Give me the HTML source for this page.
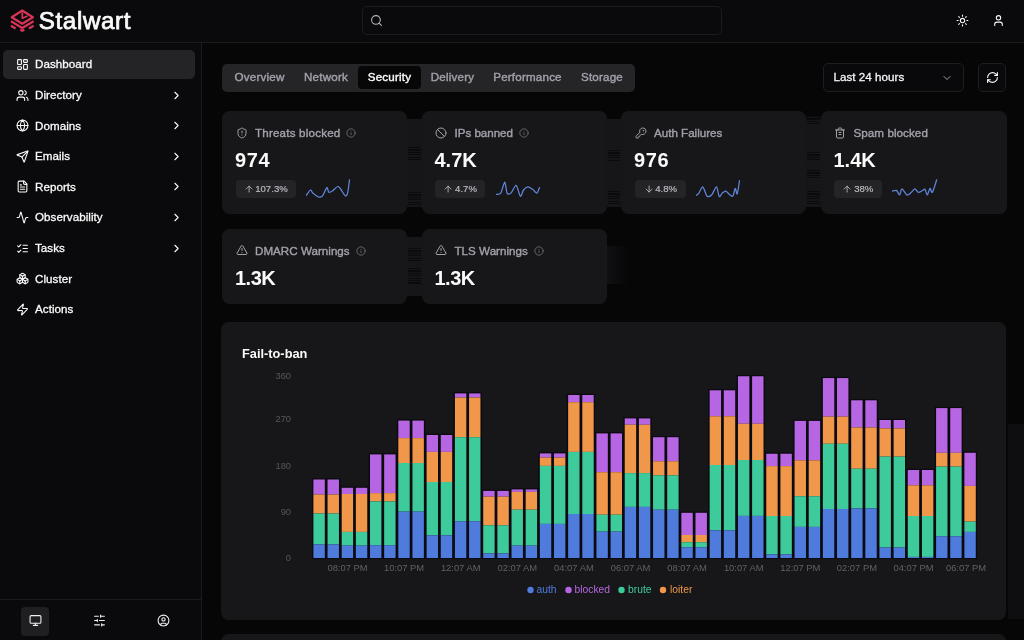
<!DOCTYPE html>
<html lang="en">
<head>
<meta charset="utf-8">
<title>Stalwart</title>
<style>
*{box-sizing:border-box;margin:0;padding:0}
html,body{width:1024px;height:640px;overflow:hidden;background:#060607;color:#fafafa;
  font-family:"Liberation Sans",Arial,sans-serif;font-size:11.2px;-webkit-font-smoothing:antialiased}
svg{display:block}
.ic{fill:none;stroke:currentColor;stroke-width:2;stroke-linecap:round;stroke-linejoin:round}
#hdr{position:absolute;left:0;top:0;width:1024px;height:43px;border-bottom:1px solid #1b1b1e;background:#0a0a0c}
#logo{position:absolute;left:9.8px;top:8.6px}
#brand{position:absolute;left:38.8px;top:6px;font-size:24.2px;font-weight:normal;-webkit-text-stroke:0.75px #fafafa;letter-spacing:0.6px;line-height:30px;color:#fafafa}
#search{position:absolute;left:362px;top:6px;width:360px;height:29px;border:1px solid #1c1c1f;border-radius:5px;background:#0a0a0c}
#search svg{position:absolute;left:7px;top:7px;color:#b4b4bb}
.hic{position:absolute;top:14px;color:#fafafa}
#side{position:absolute;left:0;top:43px;width:202px;height:597px;border-right:1px solid #1b1b1e;background:#0a0a0c}
.nav{position:absolute;left:3px;width:192px;height:29px;border-radius:5px;color:#fafafa;font-size:11.6px;font-weight:normal;-webkit-text-stroke:0.3px currentColor}
.nav.on{background:#242427}
.nav svg.i{position:absolute;left:13px;top:8px}
.nav span{position:absolute;left:32px;top:-0.6px;line-height:29px;letter-spacing:0.05px}
.nav svg.c{position:absolute;left:167px;top:8px}
#sfoot{position:absolute;left:0;top:556px;width:201px;height:41px;border-top:1px solid #1b1b1e}
#sfoot .b{position:absolute;top:7px;width:28px;height:28.5px;border-radius:4px;color:#f0f0f2}
#sfoot .b.on{background:#1f1f22}
#sfoot .b svg{position:absolute;left:8px;top:7px}
#tabs{position:absolute;left:222px;top:63.6px;width:413px;height:28.4px;background:#252528;border-radius:5px;color:#a1a1aa;font-size:11.6px;letter-spacing:0.2px;font-weight:normal;-webkit-text-stroke:0.4px currentColor}
#tabs span{position:absolute;top:2.7px;height:22.6px;line-height:21.4px;text-align:center;border-radius:4px}
#tabs span.on{background:#070708;color:#fafafa}
#range{position:absolute;left:823.4px;top:63px;width:141px;height:28.5px;border:1px solid #1e1e21;background:#09090b;border-radius:5px;font-size:11.6px;letter-spacing:0.05px;font-weight:normal;-webkit-text-stroke:0.3px currentColor;line-height:26.5px;padding-left:9px;color:#f4f4f5}
#range svg{position:absolute;left:117px;top:8px;color:#a1a1aa}
#refresh{position:absolute;left:978.3px;top:63px;width:27.7px;height:28.5px;border:1px solid #1e1e21;background:#09090b;border-radius:5px;color:#fafafa}
#refresh svg{position:absolute;left:6.8px;top:7px}
.card{position:absolute;background:#171719;border-radius:7.5px}
.card .t{position:absolute;left:13.7px;top:13.5px;height:16px;line-height:16px;font-size:11.6px;letter-spacing:0.2px;font-weight:normal;-webkit-text-stroke:0.38px currentColor;color:#a1a1aa;white-space:nowrap}
.card .t>svg{position:absolute;left:0;top:2px}
.card .t svg.inf{display:inline-block;vertical-align:-1px;margin-left:6px;color:#71717a}
.card .p svg{display:inline-block;vertical-align:-1.6px;margin-right:1.5px;width:10.2px;height:10.2px}
.card .t b{position:absolute;left:19.3px;top:0.5px;font-weight:normal}
.card .v{position:absolute;left:13px;top:36.4px;font-size:20px;font-weight:bold;line-height:26px;color:#fafafa;letter-spacing:0.6px}
.card .r{position:absolute;left:13.6px;top:68px;height:20px;width:140px}
.card .p{position:absolute;left:0;top:1.4px;text-align:center;height:17.6px;border-radius:4px;background:#242427;color:#b9b9c0;font-size:9.6px;line-height:17.5px;padding:0;white-space:nowrap;-webkit-text-stroke:0.2px currentColor}
.card .s{position:absolute;top:0}
#chart{left:221.3px;top:322px;width:785px;height:298px}
#chart h3{position:absolute;left:20.7px;top:23.8px;font-size:12.8px;font-weight:bold;line-height:16px;color:#fafafa}
#plot{position:absolute;left:0.7px;top:1px}
#plot text{font-family:"Liberation Sans",Arial,sans-serif}
.gf{position:absolute;background:#161618}
.gs{position:absolute;background:repeating-linear-gradient(180deg,#09090b 0,#09090b 1.2px,#161618 1.2px,#161618 2.4px);opacity:.9}
</style>
</head>
<body>
<div id="hdr">
<svg id="logo" width="25" height="23" viewBox="0 0 25 23" fill="none" stroke="#d73558" stroke-width="2.200" stroke-linejoin="round" stroke-linecap="butt">
<path d="M12.300 1.500 L22.900 8.200 L12.300 14.700 L1.700 8.200 Z"/>
<path d="M12.300 3.200 L12.300 9.300 L17.600 7" stroke-width="1.700"/>
<path d="M1 12.300 L12.300 19 L23.600 12.300"/>
<path d="M1 16.800 L5.600 19.500 M19 19.500 L23.600 16.800 M10.300 20.700 L12.300 21.900 L14.300 20.700"/>
</svg>
<div id="brand">Stalwart</div>
<div id="search"><svg class="ic" width="13" height="13" viewBox="0 0 24 24" stroke-width="2"><circle cx="11" cy="11" r="8"/><path d="m21 21-4.300-4.300"/></svg></div>
<svg class="ic hic" width="13" height="13" viewBox="0 0 24 24" stroke-width="2" style="left:956px"><circle cx="12" cy="12" r="4"/><path d="M12 2v2"/><path d="M12 20v2"/><path d="m4.930 4.930 1.410 1.410"/><path d="m17.660 17.660 1.410 1.410"/><path d="M2 12h2"/><path d="M20 12h2"/><path d="m6.340 17.660-1.410 1.410"/><path d="m19.070 4.930-1.410 1.410"/></svg>
<svg class="ic hic" width="13" height="13" viewBox="0 0 24 24" stroke-width="2" style="left:992px"><path d="M19 21v-2a4 4 0 0 0-4-4H9a4 4 0 0 0-4 4v2"/><circle cx="12" cy="7" r="4"/></svg>
</div>
<div id="side">
<div class="nav on" style="top:7.0px"><svg class="ic i" width="13" height="13" viewBox="0 0 24 24" stroke-width="2"><rect width="7" height="9" x="3" y="3" rx="1"/><rect width="7" height="5" x="14" y="3" rx="1"/><rect width="7" height="9" x="14" y="12" rx="1"/><rect width="7" height="5" x="3" y="16" rx="1"/></svg><span>Dashboard</span></div>
<div class="nav" style="top:37.6px"><svg class="ic i" width="13" height="13" viewBox="0 0 24 24" stroke-width="2"><path d="M16 21v-2a4 4 0 0 0-4-4H6a4 4 0 0 0-4 4v2"/><circle cx="9" cy="7" r="4"/><path d="M22 21v-2a4 4 0 0 0-3-3.870"/><path d="M16 3.130a4 4 0 0 1 0 7.750"/></svg><span>Directory</span><svg class="ic c" width="13" height="13" viewBox="0 0 24 24" stroke-width="2"><path d="m9 18 6-6-6-6"/></svg></div>
<div class="nav" style="top:68.2px"><svg class="ic i" width="13" height="13" viewBox="0 0 24 24" stroke-width="2"><circle cx="12" cy="12" r="10"/><path d="M12 2a14.500 14.500 0 0 0 0 20 14.500 14.500 0 0 0 0-20"/><path d="M2 12h20"/></svg><span>Domains</span><svg class="ic c" width="13" height="13" viewBox="0 0 24 24" stroke-width="2"><path d="m9 18 6-6-6-6"/></svg></div>
<div class="nav" style="top:98.8px"><svg class="ic i" width="13" height="13" viewBox="0 0 24 24" stroke-width="2"><path d="M14.536 21.686a.5.5 0 0 0 .937-.024l6.500-19a.496.496 0 0 0-.635-.635l-19 6.500a.5.5 0 0 0-.024.937l7.930 3.180a2 2 0 0 1 1.112 1.110z"/><path d="m21.854 2.147-10.940 10.939"/></svg><span>Emails</span><svg class="ic c" width="13" height="13" viewBox="0 0 24 24" stroke-width="2"><path d="m9 18 6-6-6-6"/></svg></div>
<div class="nav" style="top:129.4px"><svg class="ic i" width="13" height="13" viewBox="0 0 24 24" stroke-width="2"><path d="M15 2H6a2 2 0 0 0-2 2v16a2 2 0 0 0 2 2h12a2 2 0 0 0 2-2V7Z"/><path d="M14 2v4a2 2 0 0 0 2 2h4"/><path d="M10 9H8"/><path d="M16 13H8"/><path d="M16 17H8"/></svg><span>Reports</span><svg class="ic c" width="13" height="13" viewBox="0 0 24 24" stroke-width="2"><path d="m9 18 6-6-6-6"/></svg></div>
<div class="nav" style="top:160.0px"><svg class="ic i" width="13" height="13" viewBox="0 0 24 24" stroke-width="2"><path d="M22 12h-2.480a2 2 0 0 0-1.930 1.460l-2.350 8.360a.25.25 0 0 1-.480 0L9.240 2.180a.25.25 0 0 0-.480 0l-2.350 8.360A2 2 0 0 1 4.490 12H2"/></svg><span>Observability</span><svg class="ic c" width="13" height="13" viewBox="0 0 24 24" stroke-width="2"><path d="m9 18 6-6-6-6"/></svg></div>
<div class="nav" style="top:190.6px"><svg class="ic i" width="13" height="13" viewBox="0 0 24 24" stroke-width="2"><path d="m3 17 2 2 4-4"/><path d="m3 7 2 2 4-4"/><path d="M13 6h8"/><path d="M13 12h8"/><path d="M13 18h8"/></svg><span>Tasks</span><svg class="ic c" width="13" height="13" viewBox="0 0 24 24" stroke-width="2"><path d="m9 18 6-6-6-6"/></svg></div>
<div class="nav" style="top:221.2px"><svg class="ic i" width="13" height="13" viewBox="0 0 24 24" stroke-width="2"><path d="M2.970 12.920A2 2 0 0 0 2 14.630v3.240a2 2 0 0 0 .970 1.710l3 1.800a2 2 0 0 0 2.060 0L12 19v-5.500l-5-3-4.030 2.420Z"/><path d="m7 16.500-4.740-2.850"/><path d="m7 16.500 5-3"/><path d="M7 16.500v5.170"/><path d="M12 13.500V19l3.970 2.380a2 2 0 0 0 2.060 0l3-1.800a2 2 0 0 0 .970-1.710v-3.240a2 2 0 0 0-.970-1.710L17 10.500l-5 3Z"/><path d="m17 16.500-5-3"/><path d="m17 16.500 4.740-2.850"/><path d="M17 16.500v5.170"/><path d="M7.970 4.420A2 2 0 0 0 7 6.130v4.370l5 3 5-3V6.130a2 2 0 0 0-.970-1.710l-3-1.800a2 2 0 0 0-2.060 0l-3 1.800Z"/><path d="M12 8 7.260 5.150"/><path d="m12 8 4.740-2.850"/><path d="M12 13.500V8"/></svg><span>Cluster</span></div>
<div class="nav" style="top:251.8px"><svg class="ic i" width="13" height="13" viewBox="0 0 24 24" stroke-width="2"><path d="M4 14a1 1 0 0 1-.780-1.630l9.900-10.200a.5.5 0 0 1 .860.460l-1.920 6.020A1 1 0 0 0 13 10h7a1 1 0 0 1 .780 1.630l-9.900 10.200a.5.5 0 0 1-.860-.460l1.920-6.020A1 1 0 0 0 11 14z"/></svg><span>Actions</span></div>
<div id="sfoot">
<div class="b on" style="left:21px"><svg class="ic" width="13" height="13" viewBox="0 0 24 24" stroke-width="2.3"><rect width="20" height="14" x="2" y="3" rx="2"/><line x1="8" x2="16" y1="21" y2="21"/><line x1="12" x2="12" y1="17" y2="21"/></svg></div>
<div class="b" style="left:85px"><svg class="ic" width="13" height="13" viewBox="0 0 24 24" stroke-width="2.3"><line x1="21" x2="14" y1="4" y2="4"/><line x1="10" x2="3" y1="4" y2="4"/><line x1="21" x2="12" y1="12" y2="12"/><line x1="8" x2="3" y1="12" y2="12"/><line x1="21" x2="16" y1="20" y2="20"/><line x1="12" x2="3" y1="20" y2="20"/><line x1="14" x2="14" y1="2" y2="6"/><line x1="8" x2="8" y1="10" y2="14"/><line x1="16" x2="16" y1="18" y2="22"/></svg></div>
<div class="b" style="left:149px"><svg class="ic" width="13" height="13" viewBox="0 0 24 24" stroke-width="2.2"><circle cx="12" cy="12" r="10"/><circle cx="12" cy="10" r="3"/><path d="M7 20.662V19a2 2 0 0 1 2-2h6a2 2 0 0 1 2 2v1.662"/></svg></div>
</div>
</div>
<div id="tabs">
<span style="left:5px;width:65px">Overview</span>
<span style="left:72px;width:64px">Network</span>
<span class=on style="left:136px;width:63px">Security</span>
<span style="left:200px;width:61px">Delivery</span>
<span style="left:262px;width:87px">Performance</span>
<span style="left:350px;width:60px">Storage</span>
</div>
<div id="range">Last 24 hours<svg class="ic" width="12" height="12" viewBox="0 0 24 24" stroke-width="2"><path d="m6 9 6 6 6-6"/></svg></div>
<div id="refresh"><svg class="ic" width="13" height="13" viewBox="0 0 24 24" stroke-width="2"><path d="M3 12a9 9 0 0 1 9-9 9.750 9.750 0 0 1 6.740 2.740L21 8"/><path d="M21 3v5h-5"/><path d="M21 12a9 9 0 0 1-9 9 9.750 9.750 0 0 1-6.740-2.740L3 16"/><path d="M8 16H3v5"/></svg></div>
<div class="card" style="left:222px;top:111px;width:185px;height:103px">
<div class="t"><svg class="ic" width="12" height="12" viewBox="0 0 24 24" stroke-width="2"><path d="M20 13c0 5-3.500 7.500-7.660 8.950a1 1 0 0 1-.670-.010C7.500 20.500 4 18 4 13V6a1 1 0 0 1 1-1c2 0 4.500-1.200 6.240-2.720a1.170 1.170 0 0 1 1.520 0C14.510 3.810 17 5 19 5a1 1 0 0 1 1 1z"/><path d="M12 8v4"/><path d="M12 16h.01"/></svg><b style="letter-spacing:0.2px">Threats blocked<svg class="ic inf" width="10" height="10" viewBox="0 0 24 24" stroke-width="2"><circle cx="12" cy="12" r="10"/><path d="M12 16v-4"/><path d="M12 8h.01"/></svg></b></div>
<div class="v" style="letter-spacing:0.6px">974</div>
<div class="r"><div class="p" style="width:60.1px"><svg class="ic ar" width="8" height="8" viewBox="0 0 24 24" stroke-width="2"><path d="m5 12 7-7 7 7"/><path d="M12 19V5"/></svg>107.3%</div>
<svg class="s" style="left:70.8px" width="47" height="20" viewBox="0 0 47 20" fill="none" stroke="#6285dc" stroke-width="1.250" stroke-linejoin="round" stroke-linecap="round"><path d="M0.20 16.40 C0.80 15.64 3.58 11.34 4.50 11.00 C5.42 10.66 5.65 13.02 6.80 14.00 C7.95 14.98 11.34 17.61 12.70 18.00 C14.06 18.39 15.35 18.12 16.50 16.80 C17.65 15.48 20.02 9.09 20.90 8.60 C21.78 8.11 21.99 12.86 22.80 13.30 C23.61 13.74 25.44 12.56 26.70 11.75 C27.96 10.94 30.60 7.61 31.80 7.50 C33.00 7.39 34.26 9.70 35.30 11.00 C36.34 12.30 38.32 16.37 39.20 16.80 C40.08 17.23 41.00 16.34 41.60 14.10 C42.20 11.86 43.23 2.66 43.50 0.80"/></svg></div>
</div>
<div class="card" style="left:421.5px;top:111px;width:185px;height:103px">
<div class="t"><svg class="ic" width="12" height="12" viewBox="0 0 24 24" stroke-width="2"><circle cx="12" cy="12" r="10"/><path d="m4.900 4.900 14.200 14.200"/></svg><b style="letter-spacing:-0.02px">IPs banned<svg class="ic inf" width="10" height="10" viewBox="0 0 24 24" stroke-width="2"><circle cx="12" cy="12" r="10"/><path d="M12 16v-4"/><path d="M12 8h.01"/></svg></b></div>
<div class="v" style="letter-spacing:0.0px">4.7K</div>
<div class="r"><div class="p" style="width:50.2px"><svg class="ic ar" width="8" height="8" viewBox="0 0 24 24" stroke-width="2"><path d="m5 12 7-7 7 7"/><path d="M12 19V5"/></svg>4.7%</div>
<svg class="s" style="left:61.1px" width="47" height="20" viewBox="0 0 47 20" fill="none" stroke="#6285dc" stroke-width="1.250" stroke-linejoin="round" stroke-linecap="round"><path d="M0.20 15.30 C0.84 15.13 3.60 15.79 4.80 14.10 C6.00 12.41 7.87 3.20 8.75 3.20 C9.63 3.20 10.22 12.57 11.10 14.10 C11.97 15.63 13.74 15.19 15.00 14.10 C16.26 13.01 18.78 5.87 20.10 6.30 C21.42 6.73 23.36 16.54 24.40 17.20 C25.44 17.86 26.46 12.32 27.50 11.00 C28.54 9.68 30.48 7.86 31.80 7.80 C33.12 7.74 35.64 9.72 36.90 10.60 C38.16 11.48 39.88 14.38 40.80 14.10 C41.72 13.82 43.12 9.37 43.50 8.60"/></svg></div>
</div>
<div class="card" style="left:621px;top:111px;width:185px;height:103px">
<div class="t"><svg class="ic" width="12" height="12" viewBox="0 0 24 24" stroke-width="2"><path d="M2.586 17.414A2 2 0 0 0 2 18.828V21a1 1 0 0 0 1 1h3a1 1 0 0 0 1-1v-1a1 1 0 0 1 1-1h1a1 1 0 0 0 1-1v-1a1 1 0 0 1 1-1h.172a2 2 0 0 0 1.414-.586l.814-.814a6.500 6.500 0 1 0-4-4z"/><circle cx="16.500" cy="7.500" r=".5" fill="currentColor"/></svg><b style="letter-spacing:0.0px">Auth Failures</b></div>
<div class="v" style="letter-spacing:0.6px">976</div>
<div class="r"><div class="p" style="width:51.5px"><svg class="ic ar" width="8" height="8" viewBox="0 0 24 24" stroke-width="2"><path d="M12 5v14"/><path d="m19 12-7 7-7-7"/></svg>4.8%</div>
<svg class="s" style="left:61.6px" width="47" height="20" viewBox="0 0 47 20" fill="none" stroke="#6285dc" stroke-width="1.250" stroke-linejoin="round" stroke-linecap="round"><path d="M0.20 16.40 C0.58 16.08 1.98 15.30 2.90 14.10 C3.82 12.90 5.65 7.37 6.80 7.80 C7.95 8.23 9.84 16.09 11.10 17.20 C12.36 18.31 14.48 17.02 15.80 15.70 C17.12 14.38 19.46 7.53 20.50 7.80 C21.54 8.07 22.39 16.72 23.20 17.60 C24.01 18.48 25.38 14.87 26.30 14.10 C27.22 13.33 28.76 11.88 29.80 12.10 C30.84 12.32 32.76 14.99 33.75 15.70 C34.74 16.41 36.14 18.08 36.90 17.20 C37.66 16.32 38.60 9.72 39.20 9.40 C39.80 9.08 40.60 15.99 41.20 14.90 C41.80 13.81 43.18 3.46 43.50 1.60"/></svg></div>
</div>
<div class="card" style="left:820.5px;top:111px;width:186px;height:103px">
<div class="t"><svg class="ic" width="12" height="12" viewBox="0 0 24 24" stroke-width="2"><path d="M3 6h18"/><path d="M19 6v14c0 1-1 2-2 2H7c-1 0-2-1-2-2V6"/><path d="M8 6V4c0-1 1-2 2-2h4c1 0 2 1 2 2v2"/><line x1="10" x2="14" y1="11" y2="11"/><line x1="10" x2="14" y1="15" y2="15"/></svg><b style="letter-spacing:0.08px">Spam blocked</b></div>
<div class="v" style="letter-spacing:0.0px">1.4K</div>
<div class="r"><div class="p" style="width:47.6px"><svg class="ic ar" width="8" height="8" viewBox="0 0 24 24" stroke-width="2"><path d="m5 12 7-7 7 7"/><path d="M12 19V5"/></svg>38%</div>
<svg class="s" style="left:58.1px" width="47" height="20" viewBox="0 0 47 20" fill="none" stroke="#6285dc" stroke-width="1.250" stroke-linejoin="round" stroke-linecap="round"><path d="M0.20 12.10 C0.80 12.00 3.46 10.85 4.50 11.40 C5.54 11.95 6.84 16.22 7.60 16.00 C8.36 15.78 8.86 9.80 9.90 9.80 C10.94 9.80 13.74 15.45 15.00 16.00 C16.26 16.55 17.81 14.57 18.90 13.70 C19.99 12.83 21.76 9.86 22.80 9.80 C23.84 9.74 25.26 13.03 26.30 13.30 C27.34 13.57 29.26 12.18 30.20 11.75 C31.14 11.32 32.29 9.60 33.00 10.20 C33.71 10.79 34.60 16.11 35.30 16.00 C36.00 15.89 37.29 9.78 38.00 9.40 C38.71 9.02 39.46 14.50 40.40 13.30 C41.34 12.10 44.10 2.55 44.70 0.80"/></svg></div>
</div>
<div class="card" style="left:222px;top:228.5px;width:185px;height:75px">
<div class="t"><svg class="ic" width="12" height="12" viewBox="0 0 24 24" stroke-width="2"><path d="m21.730 18-8-14a2 2 0 0 0-3.480 0l-8 14A2 2 0 0 0 4 21h16a2 2 0 0 0 1.730-3"/><path d="M12 9v4"/><path d="M12 17h.01"/></svg><b style="letter-spacing:0.03px">DMARC Warnings<svg class="ic inf" width="10" height="10" viewBox="0 0 24 24" stroke-width="2"><circle cx="12" cy="12" r="10"/><path d="M12 16v-4"/><path d="M12 8h.01"/></svg></b></div>
<div class="v" style="letter-spacing:-0.5px">1.3K</div>
</div>
<div class="card" style="left:421.5px;top:228.5px;width:185px;height:75px">
<div class="t"><svg class="ic" width="12" height="12" viewBox="0 0 24 24" stroke-width="2"><path d="m21.730 18-8-14a2 2 0 0 0-3.480 0l-8 14A2 2 0 0 0 4 21h16a2 2 0 0 0 1.730-3"/><path d="M12 9v4"/><path d="M12 17h.01"/></svg><b style="letter-spacing:0.03px">TLS Warnings<svg class="ic inf" width="10" height="10" viewBox="0 0 24 24" stroke-width="2"><circle cx="12" cy="12" r="10"/><path d="M12 16v-4"/><path d="M12 8h.01"/></svg></b></div>
<div class="v" style="letter-spacing:-0.5px">1.3K</div>
</div>
<div class="gf" style="left:405.5px;top:119px;width:17.5px;height:88px"></div>
<div class="gs" style="left:408.0px;top:147px;width:12.5px;height:13px"></div>
<div class="gs" style="left:408.0px;top:192px;width:12.5px;height:13px"></div>
<div class="gf" style="left:605px;top:119px;width:17.5px;height:88px"></div>
<div class="gs" style="left:607.5px;top:150px;width:12.5px;height:12px"></div>
<div class="gs" style="left:607.5px;top:191px;width:12.5px;height:14px"></div>
<div class="gf" style="left:804.5px;top:119px;width:17.5px;height:88px"></div>
<div class="gs" style="left:807.0px;top:116px;width:12.5px;height:10px"></div>
<div class="gs" style="left:807.0px;top:152px;width:12.5px;height:10px"></div>
<div class="gs" style="left:807.0px;top:170px;width:12.5px;height:8px"></div>
<div class="gs" style="left:807.0px;top:191px;width:12.5px;height:14px"></div>
<div class="gf" style="left:405.5px;top:237px;width:17.5px;height:59px"></div>
<div class="gs" style="left:408.0px;top:248px;width:12.5px;height:14px"></div>
<div class="gs" style="left:408.0px;top:268px;width:12.5px;height:16px"></div>
<div class="gf" style="left:1007.500px;top:424px;width:17px;height:195px;background:#0e0e10"></div>
<div class="gf" style="left:607px;top:246px;width:22px;height:38px;background:linear-gradient(90deg,#111113,#060607)"></div>
<div class="card" id="chart"><h3>Fail-to-ban</h3>
<svg id="plot" width="784" height="298" viewBox="222 323 784 298">
<text x="291" y="378.6" text-anchor="end" font-size="9.300" fill="#56565e">360</text>
<text x="291" y="422.1" text-anchor="end" font-size="9.300" fill="#56565e">270</text>
<text x="291" y="468.6" text-anchor="end" font-size="9.300" fill="#56565e">180</text>
<text x="291" y="514.6" text-anchor="end" font-size="9.300" fill="#56565e">90</text>
<text x="291" y="560.6" text-anchor="end" font-size="9.300" fill="#56565e">0</text>
<g>
<rect x="312.00" y="478.30" width="14.20" height="80.70" fill="#0b0a10"/>
<rect x="313.40" y="479.50" width="11.4" height="15.00" fill="#b766e3"/><rect x="313.40" y="494.50" width="11.4" height="19.00" fill="#f0974a"/><rect x="313.40" y="513.50" width="11.4" height="30.90" fill="#3ecb9b"/><rect x="313.40" y="544.40" width="11.4" height="13.60" fill="#4f7bdc"/>
<rect x="326.15" y="478.30" width="14.20" height="80.70" fill="#0b0a10"/>
<rect x="327.55" y="479.50" width="11.4" height="15.00" fill="#b766e3"/><rect x="327.55" y="494.50" width="11.4" height="19.00" fill="#f0974a"/><rect x="327.55" y="513.50" width="11.4" height="30.90" fill="#3ecb9b"/><rect x="327.55" y="544.40" width="11.4" height="13.60" fill="#4f7bdc"/>
<rect x="340.30" y="486.60" width="14.20" height="72.40" fill="#0b0a10"/>
<rect x="341.70" y="487.80" width="11.4" height="6.20" fill="#b766e3"/><rect x="341.70" y="494.00" width="11.4" height="37.90" fill="#f0974a"/><rect x="341.70" y="531.90" width="11.4" height="13.70" fill="#3ecb9b"/><rect x="341.70" y="545.60" width="11.4" height="12.40" fill="#4f7bdc"/>
<rect x="354.46" y="486.60" width="14.20" height="72.40" fill="#0b0a10"/>
<rect x="355.86" y="487.80" width="11.4" height="6.20" fill="#b766e3"/><rect x="355.86" y="494.00" width="11.4" height="37.90" fill="#f0974a"/><rect x="355.86" y="531.90" width="11.4" height="13.70" fill="#3ecb9b"/><rect x="355.86" y="545.60" width="11.4" height="12.40" fill="#4f7bdc"/>
<rect x="368.61" y="453.20" width="14.20" height="105.80" fill="#0b0a10"/>
<rect x="370.01" y="454.40" width="11.4" height="38.70" fill="#b766e3"/><rect x="370.01" y="493.10" width="11.4" height="8.30" fill="#f0974a"/><rect x="370.01" y="501.40" width="11.4" height="43.80" fill="#3ecb9b"/><rect x="370.01" y="545.20" width="11.4" height="12.80" fill="#4f7bdc"/>
<rect x="382.76" y="453.20" width="14.20" height="105.80" fill="#0b0a10"/>
<rect x="384.16" y="454.40" width="11.4" height="38.70" fill="#b766e3"/><rect x="384.16" y="493.10" width="11.4" height="8.30" fill="#f0974a"/><rect x="384.16" y="501.40" width="11.4" height="43.80" fill="#3ecb9b"/><rect x="384.16" y="545.20" width="11.4" height="12.80" fill="#4f7bdc"/>
<rect x="396.91" y="419.40" width="14.20" height="139.60" fill="#0b0a10"/>
<rect x="398.31" y="420.60" width="11.4" height="17.50" fill="#b766e3"/><rect x="398.31" y="438.10" width="11.4" height="24.90" fill="#f0974a"/><rect x="398.31" y="463.00" width="11.4" height="48.60" fill="#3ecb9b"/><rect x="398.31" y="511.60" width="11.4" height="46.40" fill="#4f7bdc"/>
<rect x="411.06" y="419.40" width="14.20" height="139.60" fill="#0b0a10"/>
<rect x="412.46" y="420.60" width="11.4" height="17.50" fill="#b766e3"/><rect x="412.46" y="438.10" width="11.4" height="24.90" fill="#f0974a"/><rect x="412.46" y="463.00" width="11.4" height="48.60" fill="#3ecb9b"/><rect x="412.46" y="511.60" width="11.4" height="46.40" fill="#4f7bdc"/>
<rect x="425.22" y="433.80" width="14.20" height="125.20" fill="#0b0a10"/>
<rect x="426.62" y="435.00" width="11.4" height="16.90" fill="#b766e3"/><rect x="426.62" y="451.90" width="11.4" height="30.10" fill="#f0974a"/><rect x="426.62" y="482.00" width="11.4" height="53.30" fill="#3ecb9b"/><rect x="426.62" y="535.30" width="11.4" height="22.70" fill="#4f7bdc"/>
<rect x="439.37" y="433.80" width="14.20" height="125.20" fill="#0b0a10"/>
<rect x="440.77" y="435.00" width="11.4" height="16.90" fill="#b766e3"/><rect x="440.77" y="451.90" width="11.4" height="30.10" fill="#f0974a"/><rect x="440.77" y="482.00" width="11.4" height="53.30" fill="#3ecb9b"/><rect x="440.77" y="535.30" width="11.4" height="22.70" fill="#4f7bdc"/>
<rect x="453.52" y="392.20" width="14.20" height="166.80" fill="#0b0a10"/>
<rect x="454.92" y="393.40" width="11.4" height="4.10" fill="#b766e3"/><rect x="454.92" y="397.50" width="11.4" height="39.70" fill="#f0974a"/><rect x="454.92" y="437.20" width="11.4" height="84.05" fill="#3ecb9b"/><rect x="454.92" y="521.25" width="11.4" height="36.75" fill="#4f7bdc"/>
<rect x="467.67" y="392.20" width="14.20" height="166.80" fill="#0b0a10"/>
<rect x="469.07" y="393.40" width="11.4" height="4.10" fill="#b766e3"/><rect x="469.07" y="397.50" width="11.4" height="39.70" fill="#f0974a"/><rect x="469.07" y="437.20" width="11.4" height="84.05" fill="#3ecb9b"/><rect x="469.07" y="521.25" width="11.4" height="36.75" fill="#4f7bdc"/>
<rect x="481.82" y="489.70" width="14.20" height="69.30" fill="#0b0a10"/>
<rect x="483.22" y="490.90" width="11.4" height="5.70" fill="#b766e3"/><rect x="483.22" y="496.60" width="11.4" height="28.70" fill="#f0974a"/><rect x="483.22" y="525.30" width="11.4" height="28.10" fill="#3ecb9b"/><rect x="483.22" y="553.40" width="11.4" height="4.60" fill="#4f7bdc"/>
<rect x="495.98" y="489.70" width="14.20" height="69.30" fill="#0b0a10"/>
<rect x="497.38" y="490.90" width="11.4" height="5.70" fill="#b766e3"/><rect x="497.38" y="496.60" width="11.4" height="28.70" fill="#f0974a"/><rect x="497.38" y="525.30" width="11.4" height="28.10" fill="#3ecb9b"/><rect x="497.38" y="553.40" width="11.4" height="4.60" fill="#4f7bdc"/>
<rect x="510.13" y="488.20" width="14.20" height="70.80" fill="#0b0a10"/>
<rect x="511.53" y="489.40" width="11.4" height="2.50" fill="#b766e3"/><rect x="511.53" y="491.90" width="11.4" height="17.80" fill="#f0974a"/><rect x="511.53" y="509.70" width="11.4" height="35.90" fill="#3ecb9b"/><rect x="511.53" y="545.60" width="11.4" height="12.40" fill="#4f7bdc"/>
<rect x="524.28" y="488.20" width="14.20" height="70.80" fill="#0b0a10"/>
<rect x="525.68" y="489.40" width="11.4" height="2.50" fill="#b766e3"/><rect x="525.68" y="491.90" width="11.4" height="17.80" fill="#f0974a"/><rect x="525.68" y="509.70" width="11.4" height="35.90" fill="#3ecb9b"/><rect x="525.68" y="545.60" width="11.4" height="12.40" fill="#4f7bdc"/>
<rect x="538.43" y="452.20" width="14.20" height="106.80" fill="#0b0a10"/>
<rect x="539.83" y="453.40" width="11.4" height="4.10" fill="#b766e3"/><rect x="539.83" y="457.50" width="11.4" height="8.40" fill="#f0974a"/><rect x="539.83" y="465.90" width="11.4" height="58.00" fill="#3ecb9b"/><rect x="539.83" y="523.90" width="11.4" height="34.10" fill="#4f7bdc"/>
<rect x="552.58" y="452.20" width="14.20" height="106.80" fill="#0b0a10"/>
<rect x="553.98" y="453.40" width="11.4" height="4.10" fill="#b766e3"/><rect x="553.98" y="457.50" width="11.4" height="8.40" fill="#f0974a"/><rect x="553.98" y="465.90" width="11.4" height="58.00" fill="#3ecb9b"/><rect x="553.98" y="523.90" width="11.4" height="34.10" fill="#4f7bdc"/>
<rect x="566.74" y="393.80" width="14.20" height="165.20" fill="#0b0a10"/>
<rect x="568.14" y="395.00" width="11.4" height="7.20" fill="#b766e3"/><rect x="568.14" y="402.20" width="11.4" height="49.70" fill="#f0974a"/><rect x="568.14" y="451.90" width="11.4" height="62.10" fill="#3ecb9b"/><rect x="568.14" y="514.00" width="11.4" height="44.00" fill="#4f7bdc"/>
<rect x="580.89" y="393.80" width="14.20" height="165.20" fill="#0b0a10"/>
<rect x="582.29" y="395.00" width="11.4" height="7.20" fill="#b766e3"/><rect x="582.29" y="402.20" width="11.4" height="49.70" fill="#f0974a"/><rect x="582.29" y="451.90" width="11.4" height="62.10" fill="#3ecb9b"/><rect x="582.29" y="514.00" width="11.4" height="44.00" fill="#4f7bdc"/>
<rect x="595.04" y="432.20" width="14.20" height="126.80" fill="#0b0a10"/>
<rect x="596.44" y="433.40" width="11.4" height="38.80" fill="#b766e3"/><rect x="596.44" y="472.20" width="11.4" height="42.50" fill="#f0974a"/><rect x="596.44" y="514.70" width="11.4" height="16.90" fill="#3ecb9b"/><rect x="596.44" y="531.60" width="11.4" height="26.40" fill="#4f7bdc"/>
<rect x="609.19" y="432.20" width="14.20" height="126.80" fill="#0b0a10"/>
<rect x="610.59" y="433.40" width="11.4" height="38.80" fill="#b766e3"/><rect x="610.59" y="472.20" width="11.4" height="42.50" fill="#f0974a"/><rect x="610.59" y="514.70" width="11.4" height="16.90" fill="#3ecb9b"/><rect x="610.59" y="531.60" width="11.4" height="26.40" fill="#4f7bdc"/>
<rect x="623.34" y="417.20" width="14.20" height="141.80" fill="#0b0a10"/>
<rect x="624.74" y="418.40" width="11.4" height="6.30" fill="#b766e3"/><rect x="624.74" y="424.70" width="11.4" height="48.40" fill="#f0974a"/><rect x="624.74" y="473.10" width="11.4" height="33.80" fill="#3ecb9b"/><rect x="624.74" y="506.90" width="11.4" height="51.10" fill="#4f7bdc"/>
<rect x="637.50" y="417.20" width="14.20" height="141.80" fill="#0b0a10"/>
<rect x="638.90" y="418.40" width="11.4" height="6.30" fill="#b766e3"/><rect x="638.90" y="424.70" width="11.4" height="48.40" fill="#f0974a"/><rect x="638.90" y="473.10" width="11.4" height="33.80" fill="#3ecb9b"/><rect x="638.90" y="506.90" width="11.4" height="51.10" fill="#4f7bdc"/>
<rect x="651.65" y="436.00" width="14.20" height="123.00" fill="#0b0a10"/>
<rect x="653.05" y="437.20" width="11.4" height="24.05" fill="#b766e3"/><rect x="653.05" y="461.25" width="11.4" height="14.05" fill="#f0974a"/><rect x="653.05" y="475.30" width="11.4" height="34.40" fill="#3ecb9b"/><rect x="653.05" y="509.70" width="11.4" height="48.30" fill="#4f7bdc"/>
<rect x="665.80" y="436.00" width="14.20" height="123.00" fill="#0b0a10"/>
<rect x="667.20" y="437.20" width="11.4" height="24.05" fill="#b766e3"/><rect x="667.20" y="461.25" width="11.4" height="14.05" fill="#f0974a"/><rect x="667.20" y="475.30" width="11.4" height="34.40" fill="#3ecb9b"/><rect x="667.20" y="509.70" width="11.4" height="48.30" fill="#4f7bdc"/>
<rect x="679.95" y="511.60" width="14.20" height="47.40" fill="#0b0a10"/>
<rect x="681.35" y="512.80" width="11.4" height="22.20" fill="#b766e3"/><rect x="681.35" y="535.00" width="11.4" height="7.20" fill="#f0974a"/><rect x="681.35" y="542.20" width="11.4" height="5.00" fill="#3ecb9b"/><rect x="681.35" y="547.20" width="11.4" height="10.80" fill="#4f7bdc"/>
<rect x="694.10" y="511.60" width="14.20" height="47.40" fill="#0b0a10"/>
<rect x="695.50" y="512.80" width="11.4" height="22.20" fill="#b766e3"/><rect x="695.50" y="535.00" width="11.4" height="7.20" fill="#f0974a"/><rect x="695.50" y="542.20" width="11.4" height="5.00" fill="#3ecb9b"/><rect x="695.50" y="547.20" width="11.4" height="10.80" fill="#4f7bdc"/>
<rect x="708.26" y="389.10" width="14.20" height="169.90" fill="#0b0a10"/>
<rect x="709.66" y="390.30" width="11.4" height="25.95" fill="#b766e3"/><rect x="709.66" y="416.25" width="11.4" height="48.75" fill="#f0974a"/><rect x="709.66" y="465.00" width="11.4" height="65.30" fill="#3ecb9b"/><rect x="709.66" y="530.30" width="11.4" height="27.70" fill="#4f7bdc"/>
<rect x="722.41" y="389.10" width="14.20" height="169.90" fill="#0b0a10"/>
<rect x="723.81" y="390.30" width="11.4" height="25.95" fill="#b766e3"/><rect x="723.81" y="416.25" width="11.4" height="48.75" fill="#f0974a"/><rect x="723.81" y="465.00" width="11.4" height="65.30" fill="#3ecb9b"/><rect x="723.81" y="530.30" width="11.4" height="27.70" fill="#4f7bdc"/>
<rect x="736.56" y="375.05" width="14.20" height="183.95" fill="#0b0a10"/>
<rect x="737.96" y="376.25" width="11.4" height="47.50" fill="#b766e3"/><rect x="737.96" y="423.75" width="11.4" height="36.25" fill="#f0974a"/><rect x="737.96" y="460.00" width="11.4" height="55.90" fill="#3ecb9b"/><rect x="737.96" y="515.90" width="11.4" height="42.10" fill="#4f7bdc"/>
<rect x="750.71" y="375.05" width="14.20" height="183.95" fill="#0b0a10"/>
<rect x="752.11" y="376.25" width="11.4" height="47.50" fill="#b766e3"/><rect x="752.11" y="423.75" width="11.4" height="36.25" fill="#f0974a"/><rect x="752.11" y="460.00" width="11.4" height="55.90" fill="#3ecb9b"/><rect x="752.11" y="515.90" width="11.4" height="42.10" fill="#4f7bdc"/>
<rect x="764.86" y="452.55" width="14.20" height="106.45" fill="#0b0a10"/>
<rect x="766.26" y="453.75" width="11.4" height="12.35" fill="#b766e3"/><rect x="766.26" y="466.10" width="11.4" height="49.90" fill="#f0974a"/><rect x="766.26" y="516.00" width="11.4" height="38.40" fill="#3ecb9b"/><rect x="766.26" y="554.40" width="11.4" height="3.60" fill="#4f7bdc"/>
<rect x="779.02" y="452.55" width="14.20" height="106.45" fill="#0b0a10"/>
<rect x="780.42" y="453.75" width="11.4" height="12.35" fill="#b766e3"/><rect x="780.42" y="466.10" width="11.4" height="49.90" fill="#f0974a"/><rect x="780.42" y="516.00" width="11.4" height="38.40" fill="#3ecb9b"/><rect x="780.42" y="554.40" width="11.4" height="3.60" fill="#4f7bdc"/>
<rect x="793.17" y="419.70" width="14.20" height="139.30" fill="#0b0a10"/>
<rect x="794.57" y="420.90" width="11.4" height="39.40" fill="#b766e3"/><rect x="794.57" y="460.30" width="11.4" height="35.95" fill="#f0974a"/><rect x="794.57" y="496.25" width="11.4" height="30.65" fill="#3ecb9b"/><rect x="794.57" y="526.90" width="11.4" height="31.10" fill="#4f7bdc"/>
<rect x="807.32" y="419.70" width="14.20" height="139.30" fill="#0b0a10"/>
<rect x="808.72" y="420.90" width="11.4" height="39.40" fill="#b766e3"/><rect x="808.72" y="460.30" width="11.4" height="35.95" fill="#f0974a"/><rect x="808.72" y="496.25" width="11.4" height="30.65" fill="#3ecb9b"/><rect x="808.72" y="526.90" width="11.4" height="31.10" fill="#4f7bdc"/>
<rect x="821.47" y="376.90" width="14.20" height="182.10" fill="#0b0a10"/>
<rect x="822.87" y="378.10" width="11.4" height="38.50" fill="#b766e3"/><rect x="822.87" y="416.60" width="11.4" height="27.15" fill="#f0974a"/><rect x="822.87" y="443.75" width="11.4" height="65.25" fill="#3ecb9b"/><rect x="822.87" y="509.00" width="11.4" height="49.00" fill="#4f7bdc"/>
<rect x="835.62" y="376.90" width="14.20" height="182.10" fill="#0b0a10"/>
<rect x="837.02" y="378.10" width="11.4" height="38.50" fill="#b766e3"/><rect x="837.02" y="416.60" width="11.4" height="27.15" fill="#f0974a"/><rect x="837.02" y="443.75" width="11.4" height="65.25" fill="#3ecb9b"/><rect x="837.02" y="509.00" width="11.4" height="49.00" fill="#4f7bdc"/>
<rect x="849.78" y="399.10" width="14.20" height="159.90" fill="#0b0a10"/>
<rect x="851.18" y="400.30" width="11.4" height="27.20" fill="#b766e3"/><rect x="851.18" y="427.50" width="11.4" height="41.25" fill="#f0974a"/><rect x="851.18" y="468.75" width="11.4" height="39.65" fill="#3ecb9b"/><rect x="851.18" y="508.40" width="11.4" height="49.60" fill="#4f7bdc"/>
<rect x="863.93" y="399.10" width="14.20" height="159.90" fill="#0b0a10"/>
<rect x="865.33" y="400.30" width="11.4" height="27.20" fill="#b766e3"/><rect x="865.33" y="427.50" width="11.4" height="41.25" fill="#f0974a"/><rect x="865.33" y="468.75" width="11.4" height="39.65" fill="#3ecb9b"/><rect x="865.33" y="508.40" width="11.4" height="49.60" fill="#4f7bdc"/>
<rect x="878.08" y="418.80" width="14.20" height="140.20" fill="#0b0a10"/>
<rect x="879.48" y="420.00" width="11.4" height="8.40" fill="#b766e3"/><rect x="879.48" y="428.40" width="11.4" height="28.20" fill="#f0974a"/><rect x="879.48" y="456.60" width="11.4" height="90.90" fill="#3ecb9b"/><rect x="879.48" y="547.50" width="11.4" height="10.50" fill="#4f7bdc"/>
<rect x="892.23" y="418.80" width="14.20" height="140.20" fill="#0b0a10"/>
<rect x="893.63" y="420.00" width="11.4" height="8.40" fill="#b766e3"/><rect x="893.63" y="428.40" width="11.4" height="28.20" fill="#f0974a"/><rect x="893.63" y="456.60" width="11.4" height="90.90" fill="#3ecb9b"/><rect x="893.63" y="547.50" width="11.4" height="10.50" fill="#4f7bdc"/>
<rect x="906.38" y="468.80" width="14.20" height="90.20" fill="#0b0a10"/>
<rect x="907.78" y="470.00" width="11.4" height="15.30" fill="#b766e3"/><rect x="907.78" y="485.30" width="11.4" height="30.70" fill="#f0974a"/><rect x="907.78" y="516.00" width="11.4" height="40.90" fill="#3ecb9b"/><rect x="907.78" y="556.90" width="11.4" height="1.10" fill="#4f7bdc"/>
<rect x="920.54" y="468.80" width="14.20" height="90.20" fill="#0b0a10"/>
<rect x="921.94" y="470.00" width="11.4" height="15.30" fill="#b766e3"/><rect x="921.94" y="485.30" width="11.4" height="30.70" fill="#f0974a"/><rect x="921.94" y="516.00" width="11.4" height="40.90" fill="#3ecb9b"/><rect x="921.94" y="556.90" width="11.4" height="1.10" fill="#4f7bdc"/>
<rect x="934.69" y="406.90" width="14.20" height="152.10" fill="#0b0a10"/>
<rect x="936.09" y="408.10" width="11.4" height="44.70" fill="#b766e3"/><rect x="936.09" y="452.80" width="11.4" height="13.80" fill="#f0974a"/><rect x="936.09" y="466.60" width="11.4" height="69.65" fill="#3ecb9b"/><rect x="936.09" y="536.25" width="11.4" height="21.75" fill="#4f7bdc"/>
<rect x="948.84" y="406.90" width="14.20" height="152.10" fill="#0b0a10"/>
<rect x="950.24" y="408.10" width="11.4" height="44.70" fill="#b766e3"/><rect x="950.24" y="452.80" width="11.4" height="13.80" fill="#f0974a"/><rect x="950.24" y="466.60" width="11.4" height="69.65" fill="#3ecb9b"/><rect x="950.24" y="536.25" width="11.4" height="21.75" fill="#4f7bdc"/>
<rect x="962.99" y="451.60" width="14.20" height="107.40" fill="#0b0a10"/>
<rect x="964.39" y="452.80" width="11.4" height="33.10" fill="#b766e3"/><rect x="964.39" y="485.90" width="11.4" height="35.70" fill="#f0974a"/><rect x="964.39" y="521.60" width="11.4" height="10.30" fill="#3ecb9b"/><rect x="964.39" y="531.90" width="11.4" height="26.10" fill="#4f7bdc"/>
</g>
<text x="347.5" y="571" text-anchor="middle" font-size="9.400" fill="#606068">08:07 PM</text>
<text x="404.1" y="571" text-anchor="middle" font-size="9.400" fill="#606068">10:07 PM</text>
<text x="460.7" y="571" text-anchor="middle" font-size="9.400" fill="#606068">12:07 AM</text>
<text x="517.3" y="571" text-anchor="middle" font-size="9.400" fill="#606068">02:07 AM</text>
<text x="573.9" y="571" text-anchor="middle" font-size="9.400" fill="#606068">04:07 AM</text>
<text x="630.5" y="571" text-anchor="middle" font-size="9.400" fill="#606068">06:07 AM</text>
<text x="687.1" y="571" text-anchor="middle" font-size="9.400" fill="#606068">08:07 AM</text>
<text x="743.7" y="571" text-anchor="middle" font-size="9.400" fill="#606068">10:07 AM</text>
<text x="800.3" y="571" text-anchor="middle" font-size="9.400" fill="#606068">12:07 PM</text>
<text x="856.9" y="571" text-anchor="middle" font-size="9.400" fill="#606068">02:07 PM</text>
<text x="913.5" y="571" text-anchor="middle" font-size="9.400" fill="#606068">04:07 PM</text>
<text x="966.0" y="571" text-anchor="middle" font-size="9.400" fill="#606068">06:07 PM</text>
<circle cx="530.5" cy="590" r="3.200" fill="#4f7bdc"/><text x="536.5" y="593.300" font-size="10.300" fill="#4f7bdc">auth</text>
<circle cx="568.5" cy="590" r="3.200" fill="#b766e3"/><text x="574.5" y="593.300" font-size="10.300" fill="#b766e3">blocked</text>
<circle cx="621.5" cy="590" r="3.200" fill="#3ecb9b"/><text x="628" y="593.300" font-size="10.300" fill="#3ecb9b">brute</text>
<circle cx="663" cy="590" r="3.200" fill="#f0974a"/><text x="670" y="593.300" font-size="10.300" fill="#f0974a">loiter</text>
</svg></div>
<div class="card" style="left:221.300px;top:633.500px;width:785px;height:40px"></div>
</body>
</html>
